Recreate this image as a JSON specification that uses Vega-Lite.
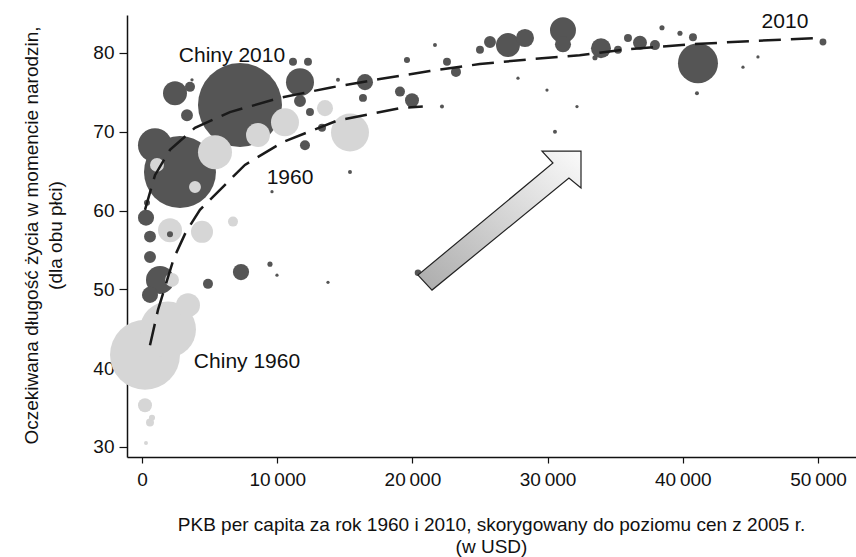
{
  "$schema": "https://vega.github.io/schema/vega-lite/v6.json",
  "width": 729,
  "height": 442,
  "autosize": "none",
  "padding": {"left": 127, "top": 15, "right": 0, "bottom": 100},
  "background": "white",
  "config": {
    "view": {"stroke": null},
    "font": "Liberation Sans",
    "axis": {
      "grid": false,
      "domainColor": "#111111",
      "domainWidth": 1.5,
      "tickColor": "#111111",
      "tickWidth": 1.2,
      "labelFont": "Liberation Sans",
      "labelFontSize": 19,
      "labelColor": "#111111",
      "titleFont": "Liberation Sans",
      "titleFontSize": 19,
      "titleFontWeight": "normal",
      "titleColor": "#111111"
    }
  },
  "datasets": {
    "bubbles": [
      {"year": "2010", "gdp": 7248, "le": 73.4, "pop": 1340},
      {"year": "2010", "gdp": 2810, "le": 64.9, "pop": 984},
      {"year": "2010", "gdp": 961, "le": 68.3, "pop": 220},
      {"year": "2010", "gdp": 2441, "le": 74.9, "pop": 109},
      {"year": "2010", "gdp": 3328, "le": 72.1, "pop": 27},
      {"year": "2010", "gdp": 3550, "le": 75.7, "pop": 19},
      {"year": "2010", "gdp": 3698, "le": 76.6, "pop": 2},
      {"year": "2010", "gdp": 11686, "le": 76.3, "pop": 149},
      {"year": "2010", "gdp": 11686, "le": 73.9, "pop": 27},
      {"year": "2010", "gdp": 11168, "le": 78.9, "pop": 12},
      {"year": "2010", "gdp": 12277, "le": 78.9, "pop": 12},
      {"year": "2010", "gdp": 16493, "le": 76.3, "pop": 49},
      {"year": "2010", "gdp": 16345, "le": 74.3, "pop": 12},
      {"year": "2010", "gdp": 14496, "le": 76.6, "pop": 3},
      {"year": "2010", "gdp": 19599, "le": 79.1, "pop": 7},
      {"year": "2010", "gdp": 21670, "le": 81.0, "pop": 3},
      {"year": "2010", "gdp": 22558, "le": 78.9, "pop": 12},
      {"year": "2010", "gdp": 23223, "le": 77.6, "pop": 19},
      {"year": "2010", "gdp": 19082, "le": 75.1, "pop": 19},
      {"year": "2010", "gdp": 19969, "le": 74.0, "pop": 37},
      {"year": "2010", "gdp": 22188, "le": 73.2, "pop": 3},
      {"year": "2010", "gdp": 12425, "le": 72.5, "pop": 12},
      {"year": "2010", "gdp": 13313, "le": 70.5, "pop": 12},
      {"year": "2010", "gdp": 12055, "le": 68.3, "pop": 19},
      {"year": "2010", "gdp": 15384, "le": 64.9, "pop": 3},
      {"year": "2010", "gdp": 9615, "le": 62.4, "pop": 2},
      {"year": "2010", "gdp": 24998, "le": 80.4, "pop": 12},
      {"year": "2010", "gdp": 25738, "le": 81.4, "pop": 27},
      {"year": "2010", "gdp": 27069, "le": 81.0, "pop": 109},
      {"year": "2010", "gdp": 28327, "le": 81.9, "pop": 62},
      {"year": "2010", "gdp": 27809, "le": 76.8, "pop": 2},
      {"year": "2010", "gdp": 29954, "le": 75.3, "pop": 2},
      {"year": "2010", "gdp": 32172, "le": 73.2, "pop": 2},
      {"year": "2010", "gdp": 30545, "le": 70.0, "pop": 3},
      {"year": "2010", "gdp": 31137, "le": 82.9, "pop": 128},
      {"year": "2010", "gdp": 31137, "le": 81.1, "pop": 49},
      {"year": "2010", "gdp": 33948, "le": 80.6, "pop": 76},
      {"year": "2010", "gdp": 33504, "le": 79.4, "pop": 5},
      {"year": "2010", "gdp": 35205, "le": 80.4, "pop": 12},
      {"year": "2010", "gdp": 35944, "le": 81.9, "pop": 12},
      {"year": "2010", "gdp": 36832, "le": 81.3, "pop": 37},
      {"year": "2010", "gdp": 37941, "le": 81.0, "pop": 19},
      {"year": "2010", "gdp": 38459, "le": 83.2, "pop": 5},
      {"year": "2010", "gdp": 39790, "le": 82.5, "pop": 5},
      {"year": "2010", "gdp": 40752, "le": 82.0, "pop": 12},
      {"year": "2010", "gdp": 41122, "le": 78.7, "pop": 304},
      {"year": "2010", "gdp": 41048, "le": 74.9, "pop": 3},
      {"year": "2010", "gdp": 44450, "le": 78.2, "pop": 2},
      {"year": "2010", "gdp": 45559, "le": 79.5, "pop": 2},
      {"year": "2010", "gdp": 50367, "le": 81.4, "pop": 9},
      {"year": "2010", "gdp": 296, "le": 59.1, "pop": 49},
      {"year": "2010", "gdp": 370, "le": 61.0, "pop": 7},
      {"year": "2010", "gdp": 592, "le": 56.7, "pop": 27},
      {"year": "2010", "gdp": 2071, "le": 57.0, "pop": 7},
      {"year": "2010", "gdp": 592, "le": 54.1, "pop": 27},
      {"year": "2010", "gdp": 1331, "le": 51.2, "pop": 149},
      {"year": "2010", "gdp": 592, "le": 49.3, "pop": 49},
      {"year": "2010", "gdp": 4881, "le": 50.7, "pop": 19},
      {"year": "2010", "gdp": 7322, "le": 52.2, "pop": 50},
      {"year": "2010", "gdp": 9467, "le": 53.2, "pop": 5},
      {"year": "2010", "gdp": 9985, "le": 51.8, "pop": 2},
      {"year": "2010", "gdp": 13757, "le": 50.9, "pop": 2},
      {"year": "2010", "gdp": 20413, "le": 52.1, "pop": 8},
      {"year": "1960", "gdp": 222, "le": 41.7, "pop": 930},
      {"year": "1960", "gdp": 1923, "le": 44.9, "pop": 595},
      {"year": "1960", "gdp": 222, "le": 35.3, "pop": 37},
      {"year": "1960", "gdp": 592, "le": 33.1, "pop": 12},
      {"year": "1960", "gdp": 296, "le": 30.5, "pop": 3},
      {"year": "1960", "gdp": 740, "le": 33.7, "pop": 7},
      {"year": "1960", "gdp": 4438, "le": 57.3, "pop": 92},
      {"year": "1960", "gdp": 3402, "le": 48.0, "pop": 109},
      {"year": "1960", "gdp": 2071, "le": 57.5, "pop": 109},
      {"year": "1960", "gdp": 2219, "le": 51.2, "pop": 37},
      {"year": "1960", "gdp": 1109, "le": 65.8, "pop": 37},
      {"year": "1960", "gdp": 3920, "le": 63.0, "pop": 27},
      {"year": "1960", "gdp": 5399, "le": 67.4, "pop": 220},
      {"year": "1960", "gdp": 8579, "le": 69.6, "pop": 109},
      {"year": "1960", "gdp": 10576, "le": 71.2, "pop": 149},
      {"year": "1960", "gdp": 13535, "le": 73.0, "pop": 49},
      {"year": "1960", "gdp": 15384, "le": 69.9, "pop": 274},
      {"year": "1960", "gdp": 6730, "le": 58.6, "pop": 19}
    ],
    "curves": [
      {"year": "1960", "gdp": 591, "le": 42.9},
      {"year": "1960", "gdp": 1183, "le": 47.4},
      {"year": "1960", "gdp": 2365, "le": 54.0},
      {"year": "1960", "gdp": 3252, "le": 57.3},
      {"year": "1960", "gdp": 4287, "le": 60.1},
      {"year": "1960", "gdp": 7613, "le": 65.8},
      {"year": "1960", "gdp": 10421, "le": 68.7},
      {"year": "1960", "gdp": 14412, "le": 71.4},
      {"year": "1960", "gdp": 19069, "le": 73.0},
      {"year": "1960", "gdp": 20769, "le": 73.2},
      {"year": "2010", "gdp": 222, "le": 60.1},
      {"year": "2010", "gdp": 961, "le": 64.5},
      {"year": "2010", "gdp": 2069, "le": 67.7},
      {"year": "2010", "gdp": 3917, "le": 70.5},
      {"year": "2010", "gdp": 6504, "le": 72.5},
      {"year": "2010", "gdp": 10200, "le": 74.3},
      {"year": "2010", "gdp": 13895, "le": 75.6},
      {"year": "2010", "gdp": 17591, "le": 76.7},
      {"year": "2010", "gdp": 21286, "le": 77.7},
      {"year": "2010", "gdp": 24982, "le": 78.6},
      {"year": "2010", "gdp": 28677, "le": 79.2},
      {"year": "2010", "gdp": 32373, "le": 79.7},
      {"year": "2010", "gdp": 36068, "le": 80.5},
      {"year": "2010", "gdp": 40503, "le": 81.1},
      {"year": "2010", "gdp": 44937, "le": 81.5},
      {"year": "2010", "gdp": 50111, "le": 81.9}
    ],
    "labels": [
      {"text": "Chiny 2010", "gdp": 6656, "le": 79.6},
      {"text": "1960", "gdp": 10946, "le": 64.1},
      {"text": "Chiny 1960", "gdp": 7766, "le": 40.8},
      {"text": "2010", "gdp": 47556, "le": 83.9}
    ],
    "arrow": [{"gdp": 26478, "le": 58.8}]
  },
  "encoding": {
    "x": {
      "field": "gdp",
      "type": "quantitative",
      "scale": {"domain": [-1109, 52810], "nice": false, "zero": false},
      "axis": {
        "values": [0, 10000, 20000, 30000, 40000, 50000],
        "tickSize": 6,
        "labelPadding": 7,
        "labelExpr": "replace(format(datum.value, ','), ',', '\u2009')",
        "title": ["PKB per capita za rok 1960 i 2010, skorygowany do poziomu cen z 2005 r.", "(w USD)"],
        "titleLineHeight": 22,
        "titleX": 364,
        "titleY": 73,
        "titleBaseline": "alphabetic",
        "titleAlign": "center"
      }
    },
    "y": {
      "field": "le",
      "type": "quantitative",
      "scale": {"domain": [28.73, 84.82], "nice": false, "zero": false},
      "axis": {
        "values": [30, 40, 50, 60, 70, 80],
        "tickSize": 8,
        "labelPadding": 5,
        "title": ["Oczekiwana długość życia w momencie narodzin,", "(dla obu płci)"],
        "titleLineHeight": 24,
        "titleX": -90,
        "titleY": 220,
        "titleAngle": -90,
        "titleBaseline": "alphabetic",
        "titleAlign": "center"
      }
    }
  },
  "layer": [
    {
      "data": {"name": "bubbles"},
      "mark": {"type": "point", "shape": "circle", "filled": true, "opacity": 1},
      "encoding": {
        "size": {"field": "pop", "type": "quantitative", "scale": {"domain": [0, 1340], "range": [0, 7056]}, "legend": null},
        "color": {"field": "year", "type": "nominal", "scale": {"domain": ["1960", "2010"], "range": ["#d6d6d6", "#555555"]}, "legend": null},
        "order": {"field": "pop", "type": "quantitative", "sort": "descending"}
      }
    },
    {
      "data": {"name": "curves"},
      "mark": {"type": "line", "color": "#1a1a1a", "strokeWidth": 2.5, "strokeDash": [22, 10]},
      "encoding": {
        "detail": {"field": "year", "type": "nominal"}
      }
    },
    {
      "data": {"name": "arrow"},
      "mark": {
        "type": "point",
        "filled": true,
        "shape": "M 0.988 -0.841 L 0.512 -0.841 L 0.646 -0.695 L -1 0.671 L -0.829 0.854 L 0.841 -0.512 L 0.988 -0.39 Z",
        "size": 26896,
        "opacity": 1,
        "fill": {
          "gradient": "linear",
          "x1": 0, "y1": 1, "x2": 1, "y2": 0,
          "stops": [
            {"offset": 0, "color": "#ababab"},
            {"offset": 1, "color": "#fafafa"}
          ]
        },
        "stroke": "#222222",
        "strokeWidth": 1.2
      }
    },
    {
      "data": {"name": "labels"},
      "mark": {"type": "text", "font": "Liberation Sans", "fontSize": 21, "align": "center", "baseline": "middle", "color": "#111111"},
      "encoding": {
        "text": {"field": "text", "type": "nominal"}
      }
    }
  ]
}
